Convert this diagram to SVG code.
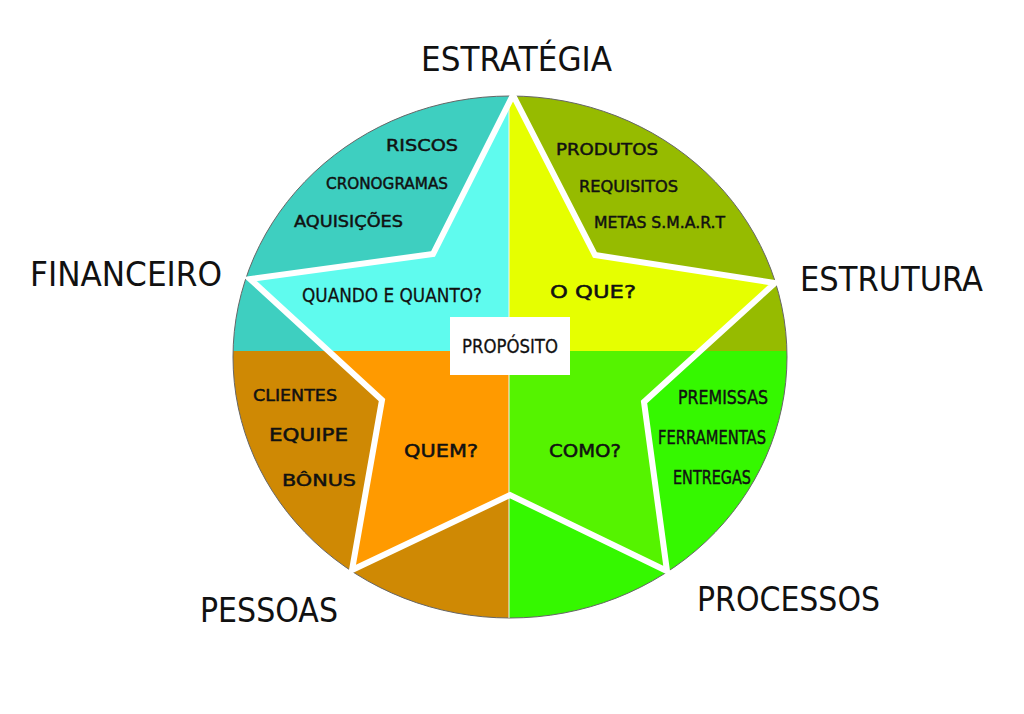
<svg xmlns="http://www.w3.org/2000/svg" width="1024" height="714" viewBox="0 0 1024 714">
<style>
.lbl{font-family:"DejaVu Sans","Liberation Sans",sans-serif;font-size:33px;fill:#111}
.t{font-family:"DejaVu Sans","Liberation Sans",sans-serif;font-size:15px;fill:#111;stroke:#111;stroke-width:0.45px}
.q{font-family:"DejaVu Sans","Liberation Sans",sans-serif;font-size:18px;fill:#111;stroke:#111;stroke-width:0.5px}
.c{font-family:"DejaVu Sans","Liberation Sans",sans-serif;font-size:19px;fill:#111;stroke:#111;stroke-width:0.45px}
.p{font-family:"DejaVu Sans","Liberation Sans",sans-serif;font-size:20px;fill:#111;stroke:#111;stroke-width:0.3px}
</style>
<defs>
<clipPath id="ell"><ellipse cx="510" cy="357" rx="277" ry="261"/></clipPath>
<clipPath id="star"><polygon points="513,95 595,255 775,283 644,402 667,571 510,495 352,570 382,400 250,279 433,254"/></clipPath>
</defs>
<rect width="1024" height="714" fill="#fff"/>
<g id="circle">
<g clip-path="url(#ell)">
<rect x="200" y="80" width="309" height="271" fill="#3ecfc0"/>
<rect x="509" y="80" width="300" height="271" fill="#96bb00"/>
<rect x="200" y="351" width="309" height="280" fill="#cf8904"/>
<rect x="509" y="351" width="300" height="280" fill="#35f800"/>
</g>
<ellipse cx="510" cy="357" rx="277" ry="261" fill="none" stroke="#666" stroke-width="1"/>
</g>
<g id="star-fill">
<g clip-path="url(#star)">
<rect x="200" y="80" width="309" height="271" fill="#5ffbee"/>
<rect x="509" y="80" width="300" height="271" fill="#e6ff00"/>
<rect x="200" y="351" width="309" height="280" fill="#ff9a00"/>
<rect x="509" y="351" width="300" height="280" fill="#55f300"/>
</g>
<line x1="509" y1="98" x2="509" y2="618" stroke="#f4f4f4" stroke-width="1"/>
</g>
<g id="connectors">
<polygon points="513,95 595,255 775,283 644,402 667,571 510,495 352,570 382,400 250,279 433,254" fill="none" stroke="#fff" stroke-width="6" stroke-linejoin="miter"/>
</g>
<g id="proposito">
<rect x="450" y="317" width="120" height="58" fill="#fff"/>
<text class="p" x="462" y="353" textLength="96" lengthAdjust="spacingAndGlyphs">PROPÓSITO</text>
</g>
<g id="estrategia"><text class="lbl" x="421" y="71" textLength="191" lengthAdjust="spacingAndGlyphs">ESTRATÉGIA</text></g>
<g id="financeiro"><text class="lbl" x="30" y="286" textLength="192" lengthAdjust="spacingAndGlyphs">FINANCEIRO</text></g>
<g id="estrutura"><text class="lbl" x="800" y="291" textLength="183" lengthAdjust="spacingAndGlyphs">ESTRUTURA</text></g>
<g id="pessoas"><text class="lbl" x="200" y="622" textLength="138" lengthAdjust="spacingAndGlyphs">PESSOAS</text></g>
<g id="processos"><text class="lbl" x="697" y="611" textLength="183" lengthAdjust="spacingAndGlyphs">PROCESSOS</text></g>
<g id="quadrant-financeiro">
<text class="t" x="386" y="151" textLength="72" lengthAdjust="spacingAndGlyphs">RISCOS</text>
<text class="t" x="326" y="189" textLength="122" lengthAdjust="spacingAndGlyphs">CRONOGRAMAS</text>
<text class="t" x="294" y="227" textLength="109" lengthAdjust="spacingAndGlyphs">AQUISIÇÕES</text>
<text class="p" x="302" y="302" textLength="180" lengthAdjust="spacingAndGlyphs">QUANDO E QUANTO?</text>
</g>
<g id="quadrant-estrutura">
<text class="t" x="556" y="155" textLength="102" lengthAdjust="spacingAndGlyphs">PRODUTOS</text>
<text class="t" x="579" y="192" textLength="99" lengthAdjust="spacingAndGlyphs">REQUISITOS</text>
<text class="t" x="594" y="228" textLength="131" lengthAdjust="spacingAndGlyphs">METAS S.M.A.R.T</text>
<text class="q" x="550" y="298" textLength="86" lengthAdjust="spacingAndGlyphs">O QUE?</text>
</g>
<g id="quadrant-pessoas">
<text class="t" x="253" y="401" textLength="84" lengthAdjust="spacingAndGlyphs">CLIENTES</text>
<text class="q" x="269" y="441" textLength="79" lengthAdjust="spacingAndGlyphs">EQUIPE</text>
<text class="t" x="282" y="486" textLength="74" lengthAdjust="spacingAndGlyphs">BÔNUS</text>
<text class="q" x="404" y="457" textLength="74" lengthAdjust="spacingAndGlyphs">QUEM?</text>
</g>
<g id="quadrant-processos">
<text class="c" x="678" y="404" textLength="90" lengthAdjust="spacingAndGlyphs">PREMISSAS</text>
<text class="c" x="658" y="444" textLength="108" lengthAdjust="spacingAndGlyphs">FERRAMENTAS</text>
<text class="c" x="673" y="484" textLength="78" lengthAdjust="spacingAndGlyphs">ENTREGAS</text>
<text class="q" x="549" y="457" textLength="72" lengthAdjust="spacingAndGlyphs">COMO?</text>
</g>
</svg>
